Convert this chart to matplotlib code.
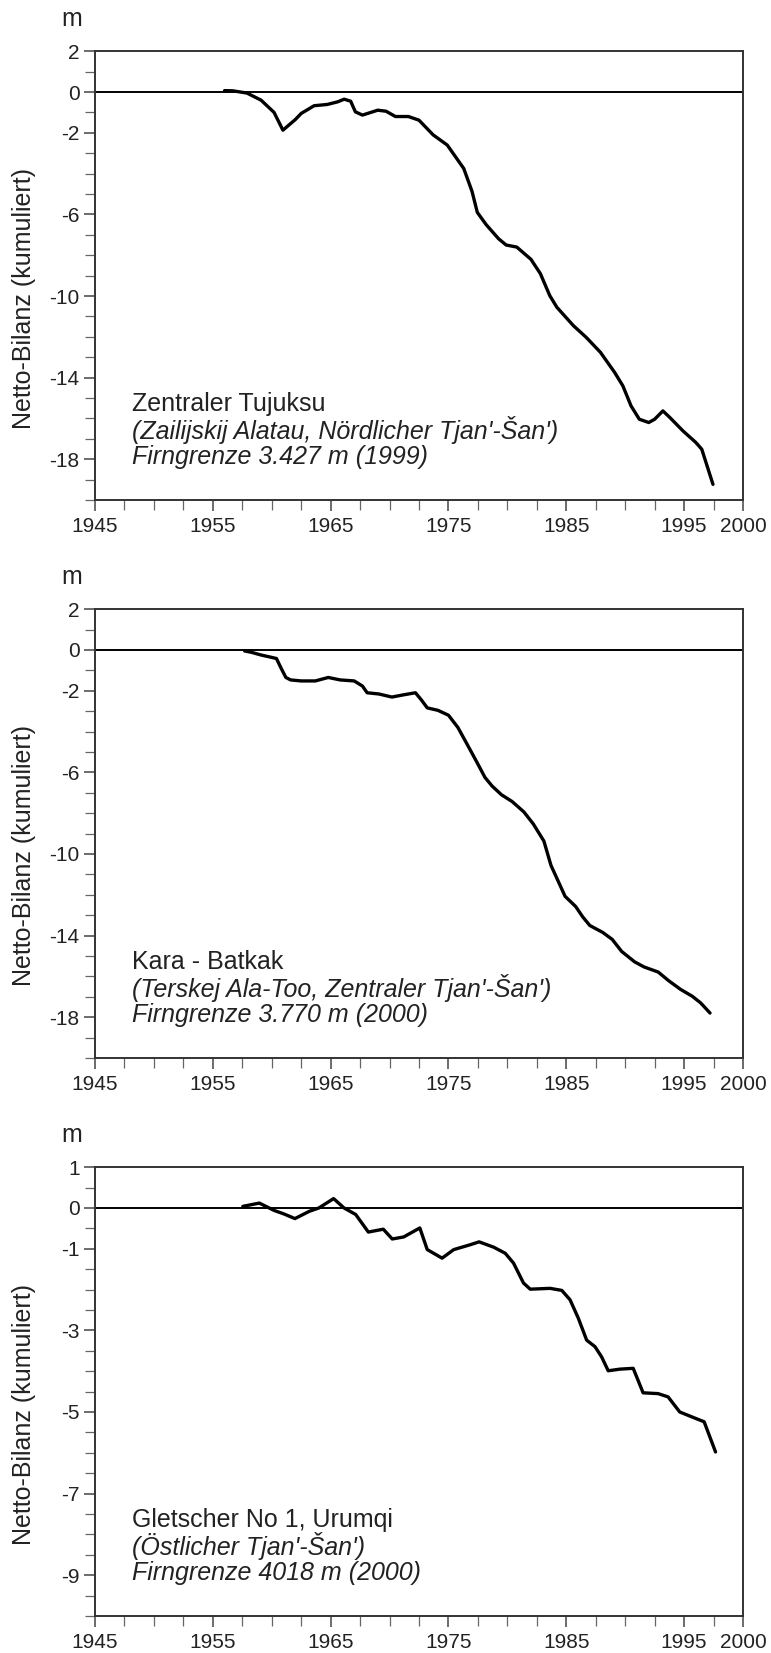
import numpy as np
from matplotlib import pyplot as plt
from matplotlib.ticker import FixedLocator, MultipleLocator

plt.rcParams['font.family'] = ['Liberation Sans', 'DejaVu Sans']
plt.rcParams['axes.unicode_minus'] = False

# Zentraler Tujuksu
tuj_year = [1956.0, 1956.7, 1957.9, 1959.1, 1960.2, 1960.95, 1962.0, 1962.5, 1963.6, 1964.7,
            1965.6, 1966.15, 1966.7, 1967.1, 1967.7, 1969.0, 1969.7, 1970.5, 1971.6, 1972.5,
            1973.7, 1974.9, 1976.3, 1977.0, 1977.45, 1978.2, 1979.25, 1979.9, 1980.8, 1982.0,
            1982.8, 1983.6, 1984.2, 1985.6, 1986.7, 1987.9, 1989.1, 1989.8, 1990.5, 1991.2,
            1992.0, 1992.5, 1993.2, 1993.8, 1994.9, 1996.0, 1996.5, 1997.45]
tuj_bal = [0.07, 0.06, -0.05, -0.4, -1.0, -1.87, -1.35, -1.05, -0.67, -0.61,
           -0.48, -0.35, -0.45, -0.97, -1.13, -0.89, -0.94, -1.2, -1.2, -1.38,
           -2.1, -2.6, -3.75, -4.87, -5.9, -6.5, -7.19, -7.5, -7.6, -8.2,
           -8.9, -9.98, -10.55, -11.45, -12.03, -12.76, -13.74, -14.4, -15.39, -16.04,
           -16.2, -16.04, -15.63, -15.96, -16.61, -17.18, -17.51, -19.23]

# Kara-Batkak
kb_year = [1957.7, 1958.3, 1959.1, 1959.8, 1960.4, 1960.8, 1961.2, 1961.6, 1962.5, 1963.7,
           1964.8, 1965.8, 1967.0, 1967.7, 1968.1, 1969.1, 1970.2, 1971.2, 1972.2, 1972.7,
           1973.2, 1974.1, 1975.0, 1975.8, 1976.6, 1977.4, 1978.1, 1978.7, 1979.5, 1980.4,
           1981.4, 1982.2, 1983.1, 1983.7, 1984.3, 1984.9, 1985.8, 1986.4, 1987.0, 1988.1,
           1988.9, 1989.7, 1990.8, 1991.6, 1992.8, 1993.7, 1994.7, 1995.7, 1996.4, 1997.2]
kb_bal = [-0.05, -0.12, -0.25, -0.34, -0.42, -0.9, -1.35, -1.47, -1.52, -1.52,
          -1.35, -1.47, -1.52, -1.77, -2.1, -2.16, -2.31, -2.2, -2.1, -2.45,
          -2.84, -2.96, -3.2, -3.8, -4.64, -5.49, -6.25, -6.67, -7.1, -7.43,
          -7.94, -8.53, -9.37, -10.56, -11.32, -12.08, -12.58, -13.09, -13.51, -13.85,
          -14.19, -14.78, -15.29, -15.54, -15.79, -16.22, -16.64, -16.98, -17.3, -17.8]

# Gletscher No 1, Urumqi
ur_year = [1957.55, 1958.95, 1960.2, 1961.07, 1961.97, 1963.2, 1964.0, 1965.25, 1966.14, 1967.13,
           1968.2, 1969.47, 1970.23, 1971.2, 1972.57, 1973.2, 1974.46, 1975.45, 1976.86, 1977.6,
           1978.83, 1979.82, 1980.52, 1981.37, 1981.94, 1983.63, 1984.62, 1985.32, 1986.02, 1986.73,
           1987.44, 1988.0, 1988.56, 1989.55, 1990.68, 1991.52, 1992.79, 1993.64, 1994.63, 1996.0,
           1996.7, 1997.67]
ur_bal = [0.04, 0.12, -0.06, -0.15, -0.26, -0.08, 0.0, 0.23, 0.0, -0.16,
          -0.59, -0.52, -0.76, -0.71, -0.49, -1.02, -1.23, -1.02, -0.9, -0.83,
          -0.96, -1.11, -1.35, -1.84, -1.99, -1.97, -2.02, -2.25, -2.7, -3.24,
          -3.4, -3.65, -3.99, -3.95, -3.93, -4.53, -4.55, -4.63, -5.0, -5.16,
          -5.24, -5.98]

x_labels = [1945, 1955, 1965, 1975, 1985, 1995, 2000]

panels = [
    dict(x=tuj_year, y=tuj_bal, ylim=(-20, 2), yticks=[2, 0, -2, -6, -10, -14, -18], minor=1,
         lines=["Zentraler Tujuksu",
                "(Zailijskij Alatau, Nördlicher Tjan'-Šan')",
                "Firngrenze 3.427 m (1999)"]),
    dict(x=kb_year, y=kb_bal, ylim=(-20, 2), yticks=[2, 0, -2, -6, -10, -14, -18], minor=1,
         lines=["Kara - Batkak",
                "(Terskej Ala-Too, Zentraler Tjan'-Šan')",
                "Firngrenze 3.770 m (2000)"]),
    dict(x=ur_year, y=ur_bal, ylim=(-10, 1), yticks=[1, 0, -1, -3, -5, -7, -9], minor=0.5,
         lines=["Gletscher No 1, Urumqi",
                "(Östlicher Tjan'-Šan')",
                "Firngrenze 4018 m (2000)"]),
]

fig = plt.figure(figsize=(7.71, 16.53), dpi=100)
bottoms = [0.6975, 0.360, 0.0224]
txt_col = '#222222'

for p, b in zip(panels, bottoms):
    ax = fig.add_axes([0.1232, b, 0.8405, 0.2715])
    ax.axhline(0, color='black', lw=1.4, zorder=2)
    ax.plot(p['x'], p['y'], color='black', lw=2.4, solid_joinstyle='round',
            solid_capstyle='round', zorder=3)
    ax.set_xlim(1945, 2000)
    ax.set_ylim(*p['ylim'])

    ax.xaxis.set_major_locator(FixedLocator(x_labels))
    ax.xaxis.set_minor_locator(MultipleLocator(2.5))
    ax.yaxis.set_major_locator(FixedLocator(p['yticks']))
    ax.yaxis.set_minor_locator(MultipleLocator(p['minor']))
    ax.set_xticklabels([str(v) for v in x_labels])
    ax.set_yticklabels([str(v) for v in p['yticks']])

    ax.tick_params(which='major', direction='out', length=8, width=1.1, color='#444444',
                   labelsize=15, labelcolor=txt_col)
    ax.tick_params(which='minor', direction='out', length=7, width=0.9, color='#666666')
    ax.tick_params(axis='x', which='major', pad=4)
    ax.tick_params(axis='y', which='major', pad=3)
    for s in ax.spines.values():
        s.set_color('#333333')
        s.set_linewidth(1.4)

    ax.set_ylabel("Netto-Bilanz (kumuliert)", fontsize=18, color=txt_col, va='center')
    ax.yaxis.set_label_coords(-0.11, 0.45)
    ax.text(-0.036, 1.072, "m", transform=ax.transAxes, fontsize=18, color=txt_col,
            ha='center', va='center')

    ax.text(0.057, 0.213, p['lines'][0], transform=ax.transAxes, fontsize=18,
            color=txt_col, va='center')
    ax.text(0.057, 0.155, p['lines'][1], transform=ax.transAxes, fontsize=18,
            style='italic', color=txt_col, va='center')
    ax.text(0.057, 0.095, p['lines'][2], transform=ax.transAxes, fontsize=18,
            style='italic', color=txt_col, va='center')

fig.savefig('out.png', dpi=100)
